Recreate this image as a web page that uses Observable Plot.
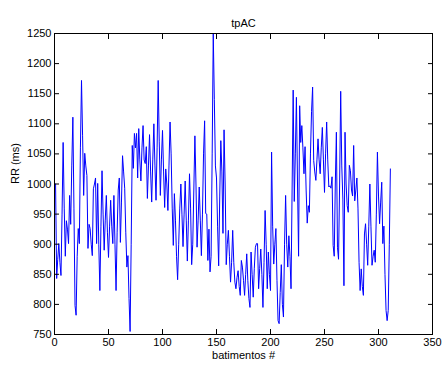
<!DOCTYPE html>
<html>
<head>
<meta charset="utf-8">
<script src="https://cdn.jsdelivr.net/npm/d3@7"></script>
<script src="https://cdn.jsdelivr.net/npm/@observablehq/plot@0.6"></script>
<style>
  html, body { margin: 0; padding: 0; background: #fff; }
  svg { display: block; }
</style>
</head>
<body>
<div id="chart"></div>
<script>
const title = "tpAC";
const xLabel = "batimentos #";
const yLabel = "RR (ms)";
const xTicks = [0, 50, 100, 150, 200, 250, 300, 350];
const yTicks = [750, 800, 850, 900, 950, 1000, 1050, 1100, 1150, 1200, 1250];

// RR intervals (ms), beat 1..311
const rr = [
  1000, 843, 875, 901, 870, 848, 950, 1069, 960, 880,
  939, 925, 901, 981, 933, 1030, 1111, 960, 798, 782,
  880, 926, 901, 1060, 1172, 1080, 981, 1051, 1030, 1014,
  893, 933, 926, 900, 881, 992, 1000, 1010, 901, 1001,
  900, 823, 930, 1022, 950, 890, 940, 981, 920, 878,
  930, 973, 930, 901, 981, 900, 823, 920, 990, 1010,
  903, 970, 1047, 1020, 993, 920, 862, 881, 810, 755,
  900, 1064, 1026, 1084, 1060, 1084, 1010, 1092, 1040, 1005,
  1060, 1097, 1040, 1034, 1062, 976, 1030, 1082, 1020, 970,
  1040, 1100, 1030, 973, 1060, 1172, 1070, 981, 1040, 1089,
  1020, 961, 1025, 1000, 956, 1030, 1103, 1050, 960, 898,
  984, 940, 880, 841, 900, 960, 1000, 950, 896, 950,
  1005, 940, 872, 940, 1017, 960, 866, 900, 990, 1080,
  1000, 895, 940, 995, 940, 881, 950, 1050, 1105, 951,
  950, 873, 925, 854, 880, 1050, 1250, 1140, 1030, 1010,
  930, 864, 980, 1072, 1020, 918, 1090, 1000, 866, 900,
  923, 880, 837, 870, 923, 870, 837, 826, 845, 856,
  830, 815, 873, 862, 840, 815, 850, 884, 840, 810,
  795, 887, 850, 812, 860, 895, 901, 901, 826, 860,
  892, 850, 795, 870, 956, 900, 826, 887, 850, 823,
  1053, 930, 867, 900, 926, 840, 773, 768, 820, 866,
  800, 779, 900, 981, 900, 862, 914, 880, 826, 990,
  1156, 971, 1050, 1144, 1000, 880, 1130, 1069, 1097, 1060,
  1017, 1062, 990, 935, 964, 953, 1050, 1120, 1161, 1039,
  1020, 1006, 1040, 1075, 1040, 1017, 1060, 1094, 1040, 986,
  1050, 1103, 1040, 995, 997, 993, 1012, 898, 880, 1000,
  1086, 895, 875, 1000, 1154, 1030, 975, 831, 1086, 1000,
  964, 953, 1031, 1022, 990, 980, 1064, 972, 990, 1010,
  960, 870, 823, 859, 830, 815, 917, 934, 900, 865,
  930, 1000, 930, 865, 880, 890, 870, 950, 1053, 980,
  934, 970, 1003, 901, 930, 850, 790, 773, 790, 900,
  1025
];
const beats = rr.map((_, i) => i + 1);

const font = "Liberation Sans, Arial, Helvetica, sans-serif";
const fmt = d3.format("d");

const chart = Plot.plot({
  width: 442,
  height: 365,
  marginLeft: 54,
  marginRight: 10,
  marginTop: 33,
  marginBottom: 31,
  style: { fontFamily: font, fontSize: "11px", background: "#fff", color: "#000" },
  x: { domain: [0, 350] },
  y: { domain: [750, 1250] },
  marks: [
    Plot.line(rr, { x: (d, i) => beats[i], y: d => d, stroke: "#0000ff", strokeWidth: 1 }),
    Plot.frame({ stroke: "#000", strokeWidth: 1 }),
    Plot.axisX({ anchor: "bottom", ticks: xTicks, tickSize: -5, tickPadding: 9, tickFormat: fmt, label: null, fontSize: 11 }),
    Plot.axisX({ anchor: "top", ticks: xTicks, tickSize: -5, tickFormat: () => "", label: null }),
    Plot.axisY({ anchor: "left", ticks: yTicks, tickSize: -5, tickPadding: 8, tickFormat: fmt, label: null, fontSize: 11 }),
    Plot.axisY({ anchor: "right", ticks: yTicks, tickSize: -5, tickFormat: () => "", label: null }),
    Plot.text([title], { text: d => d, frameAnchor: "top", dy: -14, fontSize: 11 }),
    Plot.text([xLabel], { text: d => d, frameAnchor: "bottom", dy: 24, fontSize: 11 }),
    Plot.text([yLabel], { text: d => d, frameAnchor: "left", dx: -39, rotate: -90, fontSize: 11 })
  ]
});
document.getElementById("chart").appendChild(chart);
</script>
</body>
</html>
